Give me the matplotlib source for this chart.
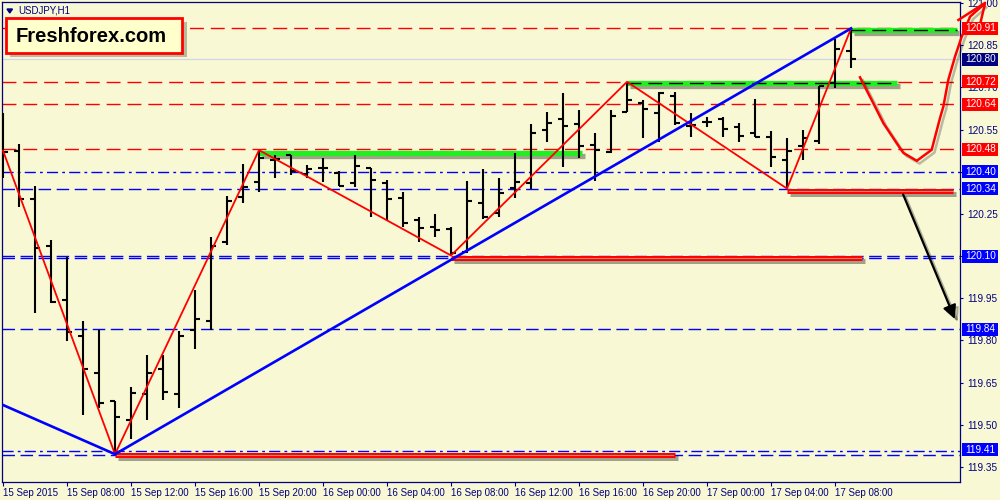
import numpy as np
import pandas as pd
import matplotlib
matplotlib.use("Agg")
from matplotlib import pyplot as plt
from matplotlib import patheffects as pe
from matplotlib.patches import Rectangle, Polygon
from matplotlib.transforms import blended_transform_factory

plt.rcParams['font.family'] = ['Liberation Sans', 'DejaVu Sans']

# USDJPY H1 bars, 15 Sep 04:00 .. 17 Sep 09:00
opens = [120.513, 120.475, 120.304, 120.137, 119.944, 119.817, 119.685, 119.585, 119.517, 119.609,
         119.697, 119.609, 119.837, 119.870, 120.150, 120.309, 120.364, 120.442, 120.460, 120.391,
         120.413, 120.397, 120.361, 120.413, 120.359, 120.306, 120.229, 120.205, 120.196, 120.115,
         120.288, 120.252, 120.341, 120.359, 120.549, 120.587, 120.570, 120.496, 120.472, 120.611,
         120.644, 120.608, 120.670, 120.563, 120.576, 120.587, 120.559, 120.537, 120.525, 120.442,
         120.490, 120.511, 120.717, 120.828]
highs = [120.609, 120.498, 120.350, 120.156, 120.096, 119.869, 119.837, 119.585, 119.635, 119.748,
         119.748, 119.835, 119.980, 120.167, 120.314, 120.428, 120.477, 120.460, 120.460, 120.424,
         120.448, 120.401, 120.460, 120.413, 120.371, 120.329, 120.238, 120.250, 120.205, 120.367,
         120.409, 120.377, 120.466, 120.570, 120.611, 120.680, 120.618, 120.537, 120.618, 120.720,
         120.656, 120.685, 120.685, 120.608, 120.594, 120.596, 120.575, 120.658, 120.546, 120.519,
         120.549, 120.706, 120.872, 120.910]
lows = [120.378, 120.276, 119.897, 119.932, 119.796, 119.535, 119.559, 119.395, 119.448, 119.517,
        119.588, 119.559, 119.769, 119.837, 120.140, 120.288, 120.329, 120.377, 120.389, 120.377,
        120.365, 120.350, 120.347, 120.238, 120.226, 120.205, 120.151, 120.169, 120.102, 120.112,
        120.231, 120.240, 120.306, 120.338, 120.507, 120.416, 120.448, 120.367, 120.468, 120.611,
        120.519, 120.507, 120.567, 120.525, 120.559, 120.525, 120.507, 120.523, 120.416, 120.340,
        120.442, 120.499, 120.697, 120.769]
closes = [120.471, 120.302, 120.130, 119.937, 119.831, 119.699, 119.577, 119.529, 119.614, 119.685,
          119.617, 119.816, 119.877, 120.136, 120.297, 120.347, 120.448, 120.445, 120.401, 120.409,
          120.413, 120.350, 120.421, 120.369, 120.302, 120.219, 120.201, 120.191, 120.111, 120.297,
          120.240, 120.326, 120.365, 120.537, 120.575, 120.561, 120.490, 120.478, 120.599, 120.656,
          120.623, 120.680, 120.573, 120.567, 120.576, 120.551, 120.528, 120.525, 120.452, 120.475,
          120.519, 120.706, 120.836, 120.800]
times = pd.date_range("2015-09-15 04:00", periods=len(opens), freq="h")

# horizontal levels
red_levels = [120.91, 120.72, 120.64, 120.48]
blue_dashdot_levels = [120.40, 119.408]
blue_dash_levels = [120.34, 120.100, 120.094, 119.84, 119.392]
bid = 120.80

# zigzag and trend
zz_bars = [0, 7, 16, 28, 39, 49, 53]
zz_prices = [120.475, 119.395, 120.477, 120.102, 120.72, 120.34, 120.91]
trend_bars = [0, 7, 53]
trend_prices = [119.57, 119.395, 120.91]

# highlighted support / resistance segments (start bar, end bar, price)
green_segs = [(16, 36.2, 120.468), (39, 55.9, 120.716), (53, 59.6, 120.906)]
red_segs = [(7, 42.0, 119.392), (28, 53.7, 120.093), (49, 59.4, 120.333)]

# hand drawn scenario curve
curve_bars = [53.56, 54.39, 55.02, 56.06, 56.27, 57.11, 58.04, 58.56, 58.77, 59.08, 59.5, 59.92, 60.44, 61.27]
curve_prices = [120.736, 120.644, 120.573, 120.484, 120.467, 120.439, 120.478, 120.591, 120.632,
                120.727, 120.810, 120.881, 120.952, 120.994]
head_bars = [59.71, 61.38, 60.94]
head_prices = [120.940, 121.001, 120.894]

yticks = [119.35, 119.50, 119.65, 119.80, 119.95, 120.10, 120.25, 120.40, 120.55, 120.70, 120.85, 121.00]
box_levels = [120.91, 120.80, 120.72, 120.64, 120.48, 120.40, 120.34, 120.10, 119.84, 119.41]
box_colors = ['#ff0000', '#000080', '#ff0000', '#ff0000', '#ff0000',
              '#0000ff', '#0000ff', '#0000ff', '#0000ff', '#0000ff']

BG = '#f8f8d4'
NAVY = '#000080'

fig = plt.figure(figsize=(10, 5), dpi=100, facecolor=BG)
ax = fig.add_axes([0.002, 0.036, 0.958, 0.960])
ax.set_facecolor(BG)
ax.set_xlim(-0.0625, 59.81)
ax.set_ylim(119.296, 121.004)

for lv in red_levels:
    ax.axhline(lv, color='#ff0000', lw=1.0, dashes=(10, 5), zorder=1)
for lv in blue_dashdot_levels:
    ax.axhline(lv, color='#0000ff', lw=1.0, dashes=(8, 3, 2, 3), zorder=1)
for lv in blue_dash_levels:
    ax.axhline(lv, color='#0000ff', lw=1.0, dashes=(9, 4), zorder=1)
ax.axhline(bid, color='#d4d4e8', lw=0.9, zorder=1)

shadow = [pe.SimpleLineShadow(offset=(2, -2.5), shadow_color='k', alpha=0.35), pe.Normal()]
for x0, x1, lv in green_segs:
    ax.plot([x0, x1], [lv, lv], color='#22ee22', lw=3.8, solid_capstyle='butt',
            path_effects=shadow, zorder=2)
for x0, x1, lv in green_segs[1:]:
    ax.plot([x0, x1], [lv, lv], color='k', lw=1.0, dashes=(10, 5), zorder=2.5)
for x0, x1, lv in red_segs:
    ax.plot([x0, x1], [lv, lv], color='#ff0000', lw=3.6, solid_capstyle='butt',
            path_effects=shadow, zorder=2, clip_on=False)
    ax.plot([x0 + 0.1, x1 - 0.1], [lv, lv], color='#d08a6a', lw=0.8, zorder=2.1)

# bars
x = np.arange(len(opens))
ax.vlines(x, lows, highs, color='k', lw=1.5, zorder=3)
ax.hlines(opens, x - 0.3, x, color='k', lw=1.5, zorder=3)
ax.hlines(closes, x, x + 0.3, color='k', lw=1.5, zorder=3)

ax.plot(zz_bars, zz_prices, color='#ff0000', lw=1.3, zorder=4)
ax.plot(trend_bars, trend_prices, color='#0000ff', lw=1.9, zorder=4)

ax.plot(curve_bars, curve_prices, color='#ff0000', lw=1.8, zorder=6, clip_on=False,
        path_effects=[pe.SimpleLineShadow(offset=(2, -2), shadow_color='k', alpha=0.25), pe.Normal()])
ax.plot(head_bars, head_prices, color='#ff0000', lw=1.8, zorder=6, clip_on=False)

ax.annotate('', xy=(59.56, 119.867), xytext=(56.19, 120.328), annotation_clip=False,
            arrowprops=dict(arrowstyle='-|>', color='k', lw=1.6, mutation_scale=20,
                            path_effects=[pe.SimpleLineShadow(offset=(2, -2), shadow_color='k', alpha=0.3),
                                          pe.Normal()]), zorder=6)

# axes styling
for sp in ax.spines.values():
    sp.set_color(NAVY)
    sp.set_linewidth(0.9)
ax.yaxis.tick_right()
ax.set_yticks(yticks)
ax.set_yticklabels([f"{v:.2f}" for v in yticks])
ax.tick_params(axis='y', colors=NAVY, length=2.2, width=0.8, pad=3, labelsize=7.2, labelcolor=NAVY)
tick_idx = list(range(0, len(times), 4))
ax.set_xticks(tick_idx)
labels = [times[i].strftime('%d %b %H:%M') for i in tick_idx]
labels[0] = times[0].strftime('%d %b %Y')
ax.set_xticklabels(labels)
ax.tick_params(axis='x', colors=NAVY, length=3, width=0.8, pad=1.5, labelsize=7.0, labelcolor=NAVY)
for lbl in ax.get_xticklabels():
    lbl.set_ha('left')

# price boxes on the right scale
tr = blended_transform_factory(fig.transFigure, ax.transData)
bh = 13 / 281.0
for lv, c in zip(box_levels, box_colors):
    fig.add_artist(Rectangle((0.962, lv - bh / 2), 0.036, bh, transform=tr,
                             facecolor=c, edgecolor='none', zorder=5))
    fig.text(0.9655, lv, f"{lv:.2f}", transform=tr, color='white', fontsize=7.2,
             va='center', ha='left', zorder=6)

# logo box
fig.add_artist(Rectangle((0.010, 1 - 57 / 500), 0.177, 35 / 500, facecolor='k', alpha=0.25,
                         edgecolor='none', transform=fig.transFigure, zorder=7))
fig.add_artist(Rectangle((0.006, 1 - 53 / 500), 0.176, 35 / 500, facecolor='#ffffcc',
                         edgecolor='#ff0000', lw=2.0, transform=fig.transFigure, zorder=8))
fig.text(0.0915, 1 - 36 / 500, 'Freshforex.com', fontsize=14.5, fontweight='bold', color='k',
         ha='center', va='center', zorder=9)

# symbol title
fig.add_artist(Polygon([[0.007, 1 - 9 / 500], [0.0125, 1 - 9 / 500], [0.00975, 1 - 13 / 500]],
                       closed=True, facecolor=NAVY, edgecolor=NAVY, transform=fig.transFigure, zorder=9))
fig.text(0.018, 1 - 10.5 / 500, 'USDJPY,H1', fontsize=7.0, color=NAVY, va='center', ha='left', zorder=9)

fig.savefig('out.png', dpi=100, facecolor=BG)
